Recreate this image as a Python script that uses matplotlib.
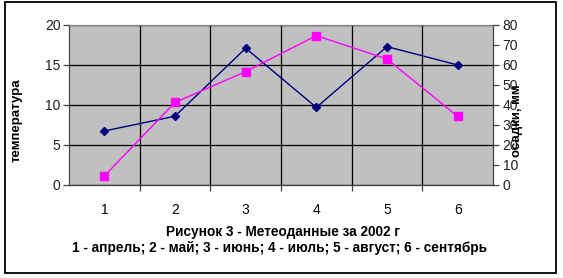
import matplotlib
matplotlib.use("Agg")
import matplotlib.pyplot as plt
from matplotlib.patches import Rectangle

MONTHS = [1, 2, 3, 4, 5, 6]
TEMPERATURE = [6.75, 8.6, 17.1, 9.7, 17.3, 15.0]
PRECIPITATION = [4.5, 41.3, 56.7, 74.7, 63.0, 34.3]
TEMP_TICKS = [0, 5, 10, 15, 20]
PREC_TICKS = [0, 10, 20, 30, 40, 50, 60, 70, 80]

plt.rcParams["font.family"] = ["Liberation Sans", "DejaVu Sans"]
NARROW = ["Liberation Sans Narrow", "Liberation Sans", "DejaVu Sans"]

W, H = 563, 278
fig = plt.figure(figsize=(W / 100, H / 100), dpi=100)
ax = fig.add_axes([69 / W, 1 - 185 / H, (493 - 69) / W, 160 / H])
ax.set_facecolor("#c0c0c0")
ax.set_xlim(0.5, 6.5)
ax.set_ylim(0, 20)
ax.set_yticks(TEMP_TICKS)
ax.set_xticks(MONTHS)
ax.set_xticks([1.5, 2.5, 3.5, 4.5, 5.5], minor=True)
ax.grid(axis="y", which="major", color="black", linewidth=0.9)
ax.grid(axis="x", which="minor", color="black", linewidth=0.9)
ax.tick_params(axis="x", which="major", length=0, pad=13, labelsize=10)
ax.tick_params(axis="x", which="minor", length=4, width=0.9, direction="out", color="#404040")
ax.tick_params(axis="y", length=4, width=0.9, pad=2, labelsize=10, color="#404040", labelcolor="#202020")
for lab in ax.get_xticklabels() + ax.get_yticklabels():
    lab.set_family(NARROW)
for side, sp in ax.spines.items():
    sp.set_color("#404040")
    sp.set_linewidth(0.9)
ax.spines["top"].set_color("#808080")

ax.plot(MONTHS, TEMPERATURE, color="#000080", linewidth=1.0, marker="D",
        markersize=4.5, markerfacecolor="#000080", markeredgecolor="#000080", zorder=4)

ax2 = ax.twinx()
ax2.set_ylim(0, 80)
ax2.set_yticks(PREC_TICKS)
ax2.tick_params(axis="y", length=4, width=0.9, pad=3, labelsize=10, color="#404040", labelcolor="#202020")
for lab in ax2.get_yticklabels():
    lab.set_family(NARROW)
for sp in ax2.spines.values():
    sp.set_visible(False)
ax2.plot(MONTHS, PRECIPITATION, color="#ff00ff", linewidth=1.0, marker="s",
         markersize=5.5, markerfacecolor="#ff00ff", markeredgecolor="#ff00ff", zorder=4)

fig.text(17 / W, 1 - 120 / H, "температура", rotation=90, ha="center", va="center",
         fontsize=9.5, fontweight="bold")
fig.text(517 / W, 1 - 121 / H, "осадки, мм", rotation=90, ha="center", va="center",
         fontsize=9.5, fontweight="bold")
fig.text(283 / W, 1 - 232 / H, "Рисунок 3 - Метеоданные за 2002 г", ha="center", va="center",
         fontsize=9.8, fontweight="bold")
fig.text(280 / W, 1 - 248 / H, "1 - апрель; 2 - май; 3 - июнь; 4 - июль; 5 - август; 6 - сентябрь",
         ha="center", va="center", fontsize=9.8, fontweight="bold")

fig.patches.append(Rectangle((5 / W, 1 - 273 / H), (556 - 5) / W, (272 - 1) / H,
                             transform=fig.transFigure, fill=False, edgecolor="black", linewidth=1.3))

fig.savefig("out.png", dpi=100)
